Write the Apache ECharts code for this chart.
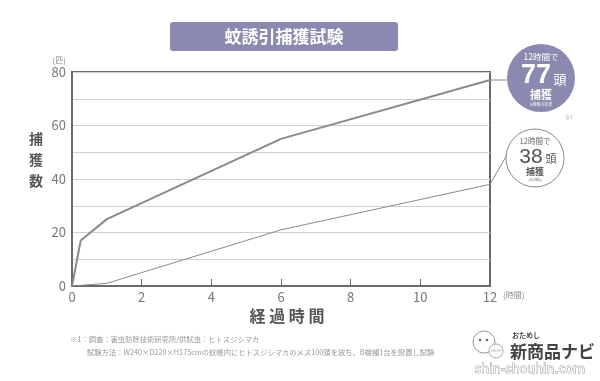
<!DOCTYPE html>
<html><head><meta charset="utf-8">
<script src="https://cdn.jsdelivr.net/npm/echarts@6/dist/echarts.min.js"></script>
<style>html,body{margin:0;padding:0;background:#fff}#c{width:600px;height:381px}</style>
</head><body><div id="c"></div>
<script>
var hours = [0, 0.25, 1, 6, 12];
var catchB = [0, 17, 25, 55, 77];
var hours2 = [0, 1, 6, 12];
var catchOther = [0, 1, 21, 38];
var xTicks = [0, 2, 4, 6, 8, 10, 12];
var yTicks = [0, 20, 40, 60, 80];
var title = '蚊誘引捕獲試験';
var yName = '捕獲数';
var xName = '経過時間';
var note1 = '※1：調査：害虫防除技術研究所/供試虫：ヒトスジシマカ';
var note2 = '試験方法：W240×D220×H175cmの蚊帳内にヒトスジシマカのメス100頭を放ち、B機種1台を設置し試験';

var FONT = '"Noto Sans CJK JP","Noto Sans",sans-serif';
var chart = echarts.init(document.getElementById('c'), null, {renderer:'canvas'});
function pairs(xs, ys){ return xs.map(function(x,i){return [x, ys[i]];}); }

var option = {
  animation:false,
  backgroundColor:'#fff',
  textStyle:{fontFamily:FONT},
  grid:{left:72, top:72, right:110, bottom:95, show:true, borderColor:'#6a6a6a', borderWidth:2, backgroundColor:'transparent'},
  xAxis:{type:'value', min:0, max:12, interval:2,
    name:'(時間)', nameLocation:'end', nameGap:10,
    nameTextStyle:{fontSize:8, color:'#888', verticalAlign:'top', padding:[5,0,0,0]},
    axisLine:{show:true, lineStyle:{color:'#6a6a6a', width:2}},
    axisTick:{show:true, inside:true, length:7, lineStyle:{color:'#6a6a6a', width:1}},
    axisLabel:{fontSize:13, color:'#777', margin:5, formatter:function(v){return xTicks.indexOf(v)>=0?String(v):'';}},
    splitLine:{show:false}},
  yAxis:{type:'value', min:0, max:80, interval:10,
    name:'(匹)', nameLocation:'end', nameGap:8,
    nameTextStyle:{fontSize:8, color:'#888', align:'right', padding:[0,6,0,0]},
    axisLine:{show:true, lineStyle:{color:'#6a6a6a', width:2}},
    axisTick:{show:false},
    axisLabel:{fontSize:13, color:'#777', margin:6, formatter:function(v){return yTicks.indexOf(v)>=0?String(v):'';}},
    splitLine:{show:true, lineStyle:{color:'#cfcfcf', width:1}}},
  series:[
    {type:'line', data:pairs(hours, catchB), symbol:'none', lineStyle:{color:'#8a8a8a', width:2}, z:3},
    {type:'line', data:pairs(hours2, catchOther), symbol:'none', lineStyle:{color:'#8a8a8a', width:1}, z:3}
  ]
};
chart.setOption(option);

var p1 = chart.convertToPixel({gridIndex:0}, [hours[hours.length-1], catchB[catchB.length-1]]);
var p2 = chart.convertToPixel({gridIndex:0}, [hours2[hours2.length-1], catchOther[catchOther.length-1]]);
var c1 = [541, 78], r1 = 34;
var c2 = [535, 158], r2 = 29;

chart.setOption({graphic:[
  {type:'rect', shape:{x:170, y:22, width:228, height:29, r:3}, style:{fill:'#8c89b0'}},
  {type:'text', x:284, y:37, style:{text:title, fill:'#fff', font:'bold 17px '+FONT, textAlign:'center', textVerticalAlign:'middle'}},
  {type:'text', x:36, y:160, style:{text:yName.split('').join('\n'), fill:'#555', font:'bold 14px '+FONT, textAlign:'center', textVerticalAlign:'middle', lineHeight:21}},
  {type:'text', x:287, y:316, style:{text:xName.split('').join(' '), fill:'#555', font:'bold 16px '+FONT, textAlign:'center', textVerticalAlign:'middle'}},
  {type:'text', x:70, y:339, style:{text:note1, fill:'#999', font:'7.3px '+FONT, textAlign:'left', textVerticalAlign:'middle'}},
  {type:'text', x:87, y:352, style:{text:note2, fill:'#999', font:'7.3px '+FONT, textAlign:'left', textVerticalAlign:'middle'}},
  // connectors
  {type:'polyline', shape:{points:[p1, [c1[0]-r1, p1[1]]]}, style:{stroke:'#8a8a8a', lineWidth:1}},
  {type:'polyline', shape:{points:[p2, [c2[0]-r2+2, c2[1]-5]]}, style:{stroke:'#8a8a8a', lineWidth:1}},
  // callout 1
  {type:'circle', shape:{cx:c1[0], cy:c1[1], r:r1}, style:{fill:'#8c89b0'}},
  {type:'text', x:c1[0], y:c1[1]-21, style:{text:'12時間で', fill:'#fff', font:'8.5px '+FONT, textAlign:'center', textVerticalAlign:'middle'}},
  {type:'text', x:c1[0]-5, y:c1[1]-2, style:{text:'77', fill:'#fff', font:'bold 27px "Liberation Sans",sans-serif', textAlign:'center', textVerticalAlign:'middle'}},
  {type:'text', x:c1[0]+19, y:c1[1]+1, style:{text:'頭', fill:'#fff', font:'13px '+FONT, textAlign:'center', textVerticalAlign:'middle'}},
  {type:'text', x:c1[0], y:c1[1]+17, style:{text:'捕獲', fill:'#fff', font:'bold 11px '+FONT, textAlign:'center', textVerticalAlign:'middle'}},
  {type:'text', x:c1[0], y:c1[1]+26, style:{text:'B機種の結果', fill:'#eee', font:'4px '+FONT, textAlign:'center', textVerticalAlign:'middle'}},
  {type:'text', x:c1[0]+28, y:c1[1]+39, style:{text:'※1', fill:'#999', font:'5px '+FONT, textAlign:'center', textVerticalAlign:'middle'}},
  // callout 2
  {type:'circle', shape:{cx:c2[0], cy:c2[1], r:r2}, style:{fill:'#fff', stroke:'#8a8a8a', lineWidth:1}},
  {type:'text', x:c2[0], y:c2[1]-17, style:{text:'12時間で', fill:'#666', font:'7.5px '+FONT, textAlign:'center', textVerticalAlign:'middle'}},
  {type:'text', x:c2[0]-4, y:c2[1]-1, style:{text:'38', fill:'#555', font:'21px "Liberation Sans",sans-serif', textAlign:'center', textVerticalAlign:'middle'}},
  {type:'text', x:c2[0]+16, y:c2[1]+1, style:{text:'頭', fill:'#555', font:'11px '+FONT, textAlign:'center', textVerticalAlign:'middle'}},
  {type:'text', x:c2[0], y:c2[1]+14, style:{text:'捕獲', fill:'#555', font:'bold 9px '+FONT, textAlign:'center', textVerticalAlign:'middle'}},
  {type:'text', x:c2[0], y:c2[1]+22, style:{text:'(他社機種)', fill:'#888', font:'3px '+FONT, textAlign:'center', textVerticalAlign:'middle'}},
  // logo
  {type:'circle', shape:{cx:484, cy:342, r:11}, style:{fill:'#fff', stroke:'#999', lineWidth:1}},
  {type:'circle', shape:{cx:480, cy:340, r:1.3}, style:{fill:'#666'}},
  {type:'circle', shape:{cx:487, cy:340, r:1.3}, style:{fill:'#666'}},
  {type:'circle', shape:{cx:496, cy:351, r:7}, style:{fill:'#fff', stroke:'#aaa', lineWidth:1}},
  {type:'text', x:496, y:351, style:{text:'NEW', fill:'#aaa', font:'4px sans-serif', textAlign:'center', textVerticalAlign:'middle'}},
  {type:'text', x:512, y:335, style:{text:'おためし', fill:'#444', font:'bold 7px '+FONT, textAlign:'left', textVerticalAlign:'middle'}},
  {type:'text', x:510, y:352, style:{text:'新商品ナビ', fill:'#444', font:'bold 17px '+FONT, textAlign:'left', textVerticalAlign:'middle'}},
  {type:'text', x:530, y:370, style:{text:'shin-shouhin.com', fill:'#fff', stroke:'#888', lineWidth:0.8, font:'12.5px "DejaVu Sans",sans-serif', textAlign:'center', textVerticalAlign:'middle'}}
]});
</script></body></html>
